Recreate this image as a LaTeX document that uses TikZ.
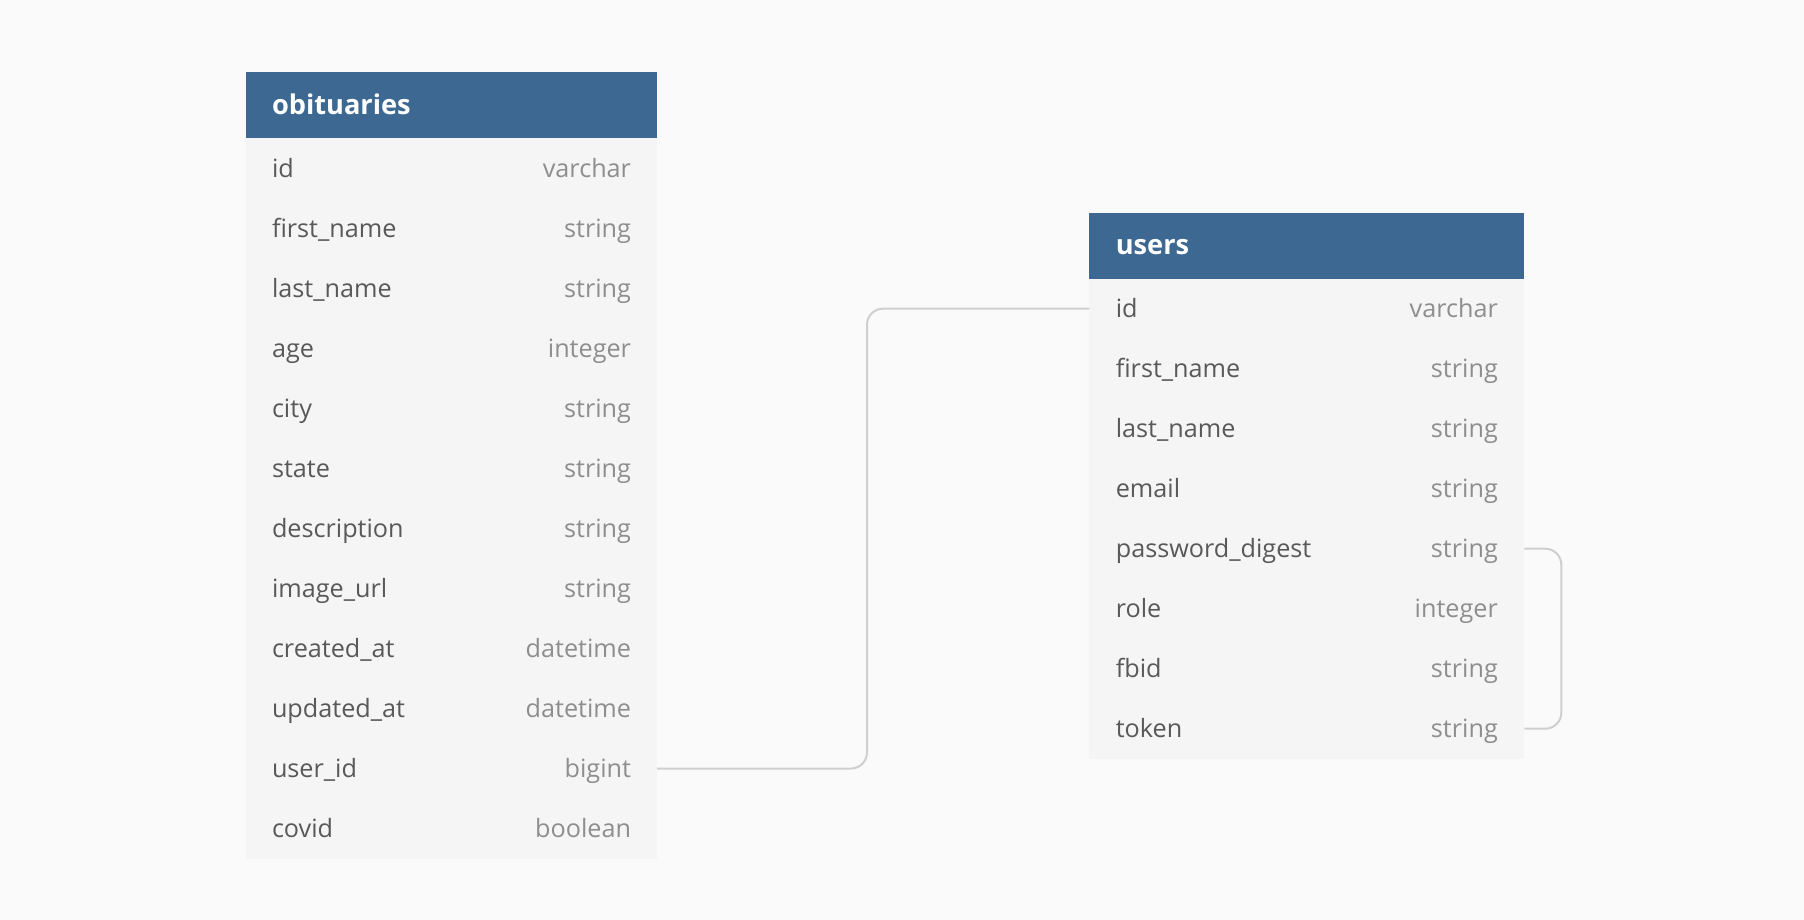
\documentclass[tikz,border=0pt]{standalone}
\usepackage{fontspec}
\setmainfont{Open Sans}
\usetikzlibrary{positioning}
\definecolor{canvas}{HTML}{FAFAFA}
\definecolor{rowgray}{HTML}{F5F5F5}
\definecolor{headblue}{HTML}{3D6891}
\definecolor{namegray}{HTML}{595959}
\definecolor{typegray}{HTML}{8E8E8E}
\definecolor{linegray}{HTML}{CFCFCF}
\tikzstyle{head}=[fill=headblue,text=white,font=\fontsize{13.6}{16}\selectfont\bfseries,anchor=north west,minimum height=33pt,inner ysep=0pt,outer sep=0pt,text height=10pt,text depth=1.3pt,align=left]
\tikzstyle{field}=[fill=rowgray,font=\fontsize{12.6}{15}\selectfont,minimum height=30pt,inner ysep=0pt,outer sep=0pt,text height=10.5pt,text depth=1.5pt,align=left]
\tikzstyle{obit}=[text width=179.5pt,inner xsep=13pt]
\tikzstyle{user}=[text width=191pt,inner xsep=13.25pt]
\tikzstyle{relation}=[draw=linegray,line width=1pt,rounded corners=8pt]
\newcommand{\fld}[2]{\textcolor{namegray}{#1}\hfill\textcolor{typegray}{#2}}

\begin{document}
\begin{tikzpicture}[x=0.5pt,y=-0.5pt]
\useasboundingbox[fill=canvas] (0,0) rectangle (1804,920);
\node[head,obit] (ObitHead) at (246,72.5) {obituaries};
\node[field,obit,below=0pt of ObitHead] (Obit1) {\fld{id}{varchar}};
\node[field,obit,below=0pt of Obit1] (Obit2) {\fld{first\_name}{string}};
\node[field,obit,below=0pt of Obit2] (Obit3) {\fld{last\_name}{string}};
\node[field,obit,below=0pt of Obit3] (Obit4) {\fld{age}{integer}};
\node[field,obit,below=0pt of Obit4] (Obit5) {\fld{city}{string}};
\node[field,obit,below=0pt of Obit5] (Obit6) {\fld{state}{string}};
\node[field,obit,below=0pt of Obit6] (Obit7) {\fld{description}{string}};
\node[field,obit,below=0pt of Obit7] (Obit8) {\fld{image\_url}{string}};
\node[field,obit,below=0pt of Obit8] (Obit9) {\fld{created\_at}{datetime}};
\node[field,obit,below=0pt of Obit9] (Obit10) {\fld{updated\_at}{datetime}};
\node[field,obit,below=0pt of Obit10] (Obit11) {\fld{user\_id}{bigint}};
\node[field,obit,below=0pt of Obit11] (Obit12) {\fld{covid}{boolean}};
\node[head,user] (UserHead) at (1089.3,212.7) {users};
\node[field,user,below=0pt of UserHead] (User1) {\fld{id}{varchar}};
\node[field,user,below=0pt of User1] (User2) {\fld{first\_name}{string}};
\node[field,user,below=0pt of User2] (User3) {\fld{last\_name}{string}};
\node[field,user,below=0pt of User3] (User4) {\fld{email}{string}};
\node[field,user,below=0pt of User4] (User5) {\fld{password\_digest}{string}};
\node[field,user,below=0pt of User5] (User6) {\fld{role}{integer}};
\node[field,user,below=0pt of User6] (User7) {\fld{fbid}{string}};
\node[field,user,below=0pt of User7] (User8) {\fld{token}{string}};
\draw[relation] (Obit11.east) -- ++(210,0) |- (User1.west);
\draw[relation] (User5.east) -- ++(37,0) |- (User8.east);
\end{tikzpicture}
\end{document}
